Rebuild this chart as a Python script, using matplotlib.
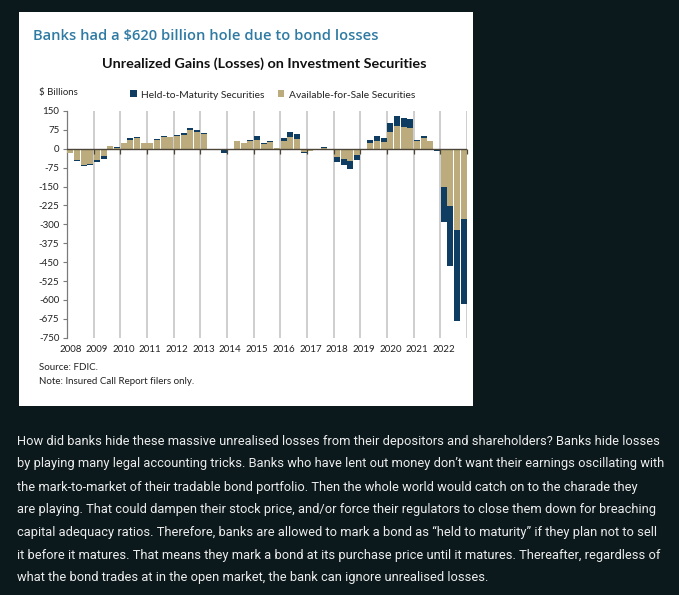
import numpy as np
import matplotlib
matplotlib.use("Agg")
import matplotlib.pyplot as plt
from matplotlib.patches import Rectangle
from matplotlib.markers import TICKDOWN

# ---------------- data ----------------
years = list(range(2008, 2023))
year_labels = [str(y) for y in years]
# quarterly values, 2008Q1 .. 2022Q4 ($ billions)
afs = [-17, -46, -64, -59,
       -44, -30, 13, 3,
       22, 36, 42, 22,
       22, 36, 48, 46,
       49, 54, 73, 65,
       58, -3, -4, -5,
       -3, 30, 21, 29,
       34, 20, 25, 2,
       30, 45, 38, -14,
       -7, -2, 3, -4,
       -33, -40, -50, -26,
       -2, 22, 30, 26,
       67, 92, 88, 83,
       32, 41, 30, -3,
       -152, -227, -321, -280]
htm = [0, -1, -3, -4,
       -10, -9, 0, 6,
       0, 5, 5, 0,
       0, 1, 1, 1,
       5, 8, 10, 9,
       5, -1, -1, -12,
       -1, 0, 1, 7,
       16, 3, 7, 3,
       14, 22, 21, -2,
       -1, -1, 3, -1,
       -21, -24, -32, -17,
       -1, 13, 22, 17,
       36, 37, 36, 34,
       2, 9, 0, -6,
       -139, -239, -363, -336]
yticks = [150, 75, 0, -75, -150, -225, -300, -375, -450, -525, -600, -675, -750]

body_lines = [
    "How did banks hide these massive unrealised losses from their depositors and shareholders? Banks hide losses",
    "by playing many legal accounting tricks. Banks who have lent out money don\u2019t want their earnings oscillating with",
    "the mark-to-market of their tradable bond portfolio. Then the whole world would catch on to the charade they",
    "are playing. That could dampen their stock price, and/or force their regulators to close them down for breaching",
    "capital adequacy ratios. Therefore, banks are allowed to mark a bond as \u201cheld to maturity\u201d if they plan not to sell",
    "it before it matures. That means they mark a bond at its purchase price until it matures. Thereafter, regardless of",
    "what the bond trades at in the open market, the bank can ignore unrealised losses.",
]

# ---------------- styling ----------------
W, H = 679, 595
BG = "#0b181c"
NAVY = "#0f3d62"
TAN = "#bcab7c"
CHART_FONT = ["Lato", "DejaVu Sans"]

fig = plt.figure(figsize=(W / 100, H / 100), dpi=100, facecolor=BG)

def fx(px):
    return px / W

def fy(py):
    return 1 - py / H

# white panel
fig.patches.append(Rectangle((fx(19), fy(406)), fx(473) - fx(19), fy(12) - fy(406),
                             transform=fig.transFigure, facecolor="white",
                             edgecolor="none", zorder=-5))

ax = fig.add_axes([fx(67), fy(337.7), fx(467) - fx(67), fy(111) - fy(337.7)])
ax.set_zorder(2)
ax.set_facecolor("white")

afs_a = np.array(afs, dtype=float)
htm_a = np.array(htm, dtype=float)
x = np.arange(len(afs_a))
htm_bottom = np.where(np.sign(htm_a) == np.sign(afs_a), afs_a, 0.0)

ax.bar(x, afs_a, width=0.86, color=TAN, zorder=3, label="Available-for-Sale Securities")
ax.bar(x, htm_a, bottom=htm_bottom, width=0.86, color=NAVY, zorder=3,
       label="Held-to-Maturity Securities")

ax.set_xlim(-0.5, len(x) - 0.5)
ax.set_ylim(-750, 150)

# vertical gridlines at year boundaries (minor ticks)
bounds = np.arange(1, len(years) + 1) * 4 - 0.5
ax.set_xticks(bounds, minor=True)
ax.tick_params(axis="x", which="minor", length=0)
ax.set_axisbelow(True)
ax.xaxis.grid(True, which="minor", color="#c6c6c6", linewidth=1.2)
ax.xaxis.grid(False, which="major")
ax.axhline(0, color="#4a4538", lw=1.0, zorder=4)
# small downward ticks on the zero line at year boundaries
ax.plot(bounds, np.zeros_like(bounds), ls="none", marker=TICKDOWN, ms=3.5,
        mew=0.9, color="#4a4538", zorder=4, clip_on=False)

# spines
for s in ["top", "right", "bottom"]:
    ax.spines[s].set_visible(False)
ax.spines["left"].set_color("#7a7a7a")
ax.spines["left"].set_linewidth(0.9)

ax.set_yticks(yticks)
ax.set_yticklabels([str(v) for v in yticks], fontsize=7.0, color="#222222",
                   family=CHART_FONT)
ax.tick_params(axis="y", direction="out", length=3, width=0.8, color="#7a7a7a", pad=2.5)

ax.set_xticks(np.arange(len(years)) * 4)
ax.set_xticklabels(year_labels, fontsize=7.0, color="#222222", family=CHART_FONT)
ax.tick_params(axis="x", which="major", length=0, pad=5)

# texts in the panel
fig.text(fx(33), fy(36), "Banks had a $620 billion hole due to bond losses",
         fontsize=10.6, color="#2f7aa3", fontweight="semibold",
         family=["Open Sans", "DejaVu Sans"], ha="left", va="center")
fig.text(fx(264.5), fy(64), "Unrealized Gains (Losses) on Investment Securities",
         fontsize=10.35, color="#111111", fontweight="bold",
         family=CHART_FONT, ha="center", va="center")
fig.text(fx(39), fy(93), "$ Billions", fontsize=6.9, color="#222222",
         family=CHART_FONT, ha="left", va="center")

handles, labels = ax.get_legend_handles_labels()
leg = fig.legend(handles[::-1], labels[::-1], loc="center",
                 bbox_to_anchor=(fx(272.5), fy(95)), ncol=2, frameon=False,
                 handlelength=0.65, handleheight=0.65,
                 handletextpad=0.4, columnspacing=1.3,
                 prop={"family": CHART_FONT, "size": 7.4})
for t in leg.get_texts():
    t.set_color("#222222")

fig.text(fx(39), fy(368), "Source: FDIC.", fontsize=7.0, color="#222222",
         family=CHART_FONT, ha="left", va="center")
fig.text(fx(39), fy(382), "Note: Insured Call Report filers only.", fontsize=7.0,
         color="#222222", family=CHART_FONT, ha="left", va="center")

# body paragraph
line_y = [441, 464, 487, 510, 532.5, 555.5, 578]
for ly, line in zip(line_y, body_lines):
    fig.text(fx(17), fy(ly), line, fontsize=9.3, color="#ececec",
             family=["Liberation Sans Narrow", "Roboto", "DejaVu Sans"],
             ha="left", va="center")

fig.savefig("out.png", dpi=100, facecolor=BG)
